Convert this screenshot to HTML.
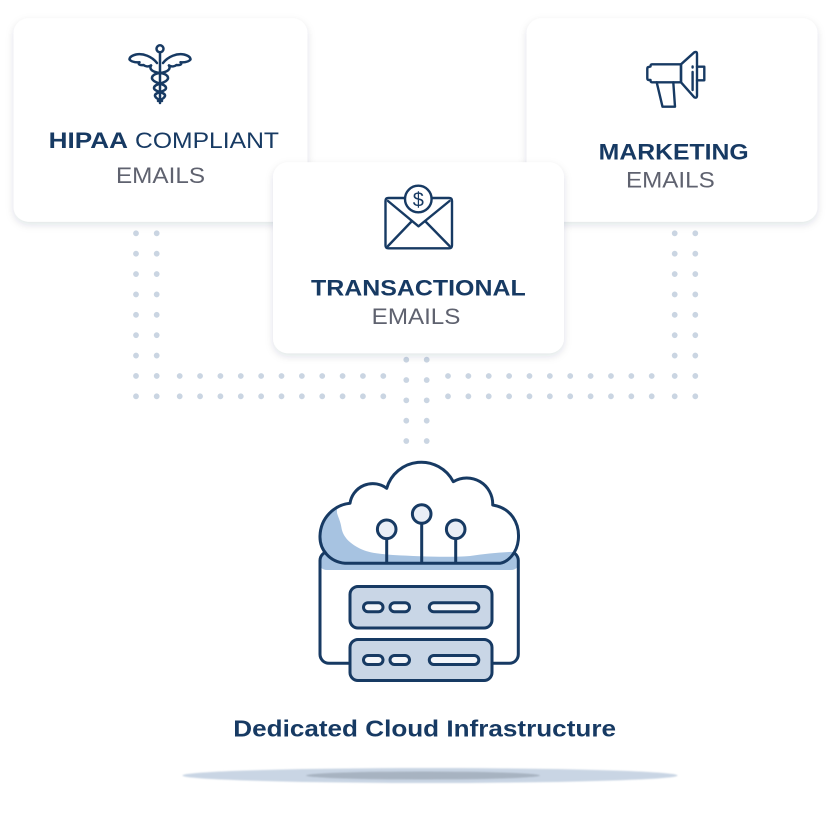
<!DOCTYPE html>
<html>
<head>
<meta charset="utf-8">
<style>
  html,body{margin:0;padding:0;background:#ffffff;}
  body{width:833px;height:833px;overflow:hidden;}
  svg{display:block;}
  .nv{fill:#173a63;font-family:"Liberation Sans",sans-serif;font-weight:bold;}
  .gr{fill:#5f626f;font-family:"Liberation Sans",sans-serif;font-weight:normal;}
  .ln{fill:#173a63;font-family:"Liberation Sans",sans-serif;font-weight:normal;}
</style>
</head>
<body>
<svg width="833" height="833" viewBox="0 0 833 833" xmlns="http://www.w3.org/2000/svg">
  <defs>
    <filter id="sh" x="-10%" y="-10%" width="120%" height="130%">
      <feDropShadow dx="0" dy="3" stdDeviation="4" flood-color="#1c2a44" flood-opacity="0.13"/>
    </filter>
    <filter id="blur1" x="-5%" y="-100%" width="110%" height="300%">
      <feGaussianBlur stdDeviation="0.7"/>
    </filter>
    <clipPath id="cloudClip">
      <path d="M 345,563.3 C 330,562 319.5,550 320,536 C 320.5,518 334,505 350,503.3 A 23 23 0 0 1 386.7,488.3 A 36 36 0 0 1 453.3,481.7 A 26 26 0 0 1 492.7,505 C 511,508 520,523 518.3,540 C 517,553 508,562 500,563.3 Z"/>
    </clipPath>
    <clipPath id="chClip">
      <rect x="320" y="551.5" width="198.3" height="111.8" rx="9"/>
    </clipPath>
  </defs>

  <!-- dotted connectors (round-capped zero-length dashes) -->
  <g stroke="#cad5e2" stroke-width="5.8" stroke-linecap="round" fill="none">
    <path d="M136,233.3 V396.8 M156.7,233.3 V396.8 M674.7,233.3 V396.8 M695.3,233.3 V396.8" stroke-dasharray="0 20.375"/>
    <path d="M179.7,376 H383.8 M179.7,396.3 H383.8" stroke-dasharray="0 20.36"/>
    <path d="M448,376 H652.2 M448,396.3 H652.2" stroke-dasharray="0 20.37"/>
    <path d="M406.3,359.7 V441.5 M426.7,359.7 V441.5" stroke-dasharray="0 20.33"/>
  </g>

  <!-- cards -->
  <rect x="13.5" y="18.3" width="294" height="203.4" rx="15" fill="#ffffff" filter="url(#sh)"/>
  <rect x="526.5" y="18.3" width="291" height="203.4" rx="15" fill="#ffffff" filter="url(#sh)"/>
  <rect x="273" y="162.3" width="291" height="191" rx="15" fill="#ffffff" filter="url(#sh)"/>

  <!-- caduceus -->
  <g fill="none" stroke="#173a63" stroke-width="2.5" stroke-linecap="round" stroke-linejoin="round">
    <circle cx="160" cy="48.8" r="3.5"/>
    <line x1="160" y1="52.3" x2="160" y2="103"/>
    <path d="M 157,63 C 152,56.5 143,53 136,54.5 C 132,55.5 129.5,57 129.5,59.5 C 131,61.5 135,62.5 139.5,62.3 C 137.5,64 139.5,65.5 143.5,65 C 145.5,66.5 148.5,67 151,65.5"/>
    <path d="M 163,63 C 168,56.5 177,53 184,54.5 C 188,55.5 190.5,57 190.5,59.5 C 189,61.5 185,62.5 180.5,62.3 C 182.5,64 180.5,65.5 176.5,65 C 174.5,66.5 171.5,67 169,65.5"/>
    <path d="M 151,65.5 C 149,69 152,72 160,73 C 168,74 170,78 166,81 C 162,84 154,84 154,88 C 154,92 166,92 165,96 C 164,99 160,100 158,101"/>
    <path d="M 169,65.5 C 171,69 168,72 160,73 C 152,74 150,78 154,81 C 158,84 166,84 166,88 C 166,92 154,92 155,96 C 156,99 160,100 162,101"/>
  </g>

  <!-- megaphone -->
  <g fill="none" stroke="#173a63" stroke-width="2.4" stroke-linejoin="round" stroke-linecap="round">
    <path d="M 681,64.3 L 652,64.3 Q 650.5,64.3 650.5,66.5 L 648.8,67 Q 647.3,67 647.3,68.8 L 647.3,78.3 Q 647.3,80 648.8,80 L 650.5,80 Q 650.5,82.3 652,82.3 L 681,82.3 Z"/>
    <path d="M 681,64.3 L 694.3,52.3 Q 697,51 697,54 L 697,95.5 Q 697,98.5 694.3,97.3 L 681,82.3 Z"/>
    <path d="M 697,66.7 L 704.3,66.7 L 704.3,80.3 L 697,80.3"/>
    <path d="M 692.6,72 V 90 M 692.6,66.5 V 67.5"/>
    <path d="M 656.7,82.3 L 662.5,106.7 L 675,106.7 L 673.3,82.3"/>
  </g>

  <!-- envelope -->
  <g fill="none" stroke="#173a63" stroke-width="2.4" stroke-linejoin="round" stroke-linecap="round">
    <path d="M 404.5,198 L 388.5,198 Q 385.5,198 385.5,201 L 385.5,245.3 Q 385.5,248.3 388.5,248.3 L 449,248.3 Q 452,248.3 452,245.3 L 452,201 Q 452,198 449,198 L 432.2,198"/>
    <path d="M 388,201 L 418.5,226.3 L 449.5,201 M 388,246 L 411.5,221.5 M 449.5,246 L 425.5,221.5"/>
    <circle cx="418.3" cy="199" r="13.3"/>
  </g>
  <text x="418.3" y="206.5" text-anchor="middle" font-family="Liberation Sans, sans-serif" font-size="20" fill="#173a63">$</text>

  <!-- card labels -->
  <text class="nv" x="48.7" y="148" font-size="22.6" textLength="79.3" lengthAdjust="spacingAndGlyphs">HIPAA</text>
  <text class="ln" x="135" y="148" font-size="22.6" textLength="144" lengthAdjust="spacingAndGlyphs">COMPLIANT</text>
  <text class="gr" x="116" y="183" font-size="22.6" textLength="89" lengthAdjust="spacingAndGlyphs">EMAILS</text>
  <text class="nv" x="598.7" y="159.3" font-size="22.6" textLength="150" lengthAdjust="spacingAndGlyphs">MARKETING</text>
  <text class="gr" x="626" y="187.7" font-size="22.6" textLength="88.7" lengthAdjust="spacingAndGlyphs">EMAILS</text>
  <text class="nv" x="311" y="295.3" font-size="22" textLength="214.7" lengthAdjust="spacingAndGlyphs">TRANSACTIONAL</text>
  <text class="gr" x="371.7" y="324" font-size="22.6" textLength="88.7" lengthAdjust="spacingAndGlyphs">EMAILS</text>

  <!-- chassis -->
  <rect x="320" y="551.5" width="198.3" height="111.8" rx="9" fill="#ffffff"/>
  <g clip-path="url(#chClip)">
    <rect x="318" y="549" width="202" height="21" rx="9" fill="#a7c3e1"/>
  </g>
  <rect x="320" y="551.5" width="198.3" height="111.8" rx="9" fill="none" stroke="#173a63" stroke-width="3"/>

  <!-- cloud -->
  <g clip-path="url(#cloudClip)">
    <rect x="310" y="455" width="220" height="115" fill="#a7c3e1"/>
    <path fill="#ffffff" d="M 342,500 L 360,470 L 530,430 L 530,552 C 510,551 490,553 470,556 C 450,557.5 420,556.5 393,555 C 380,554 370,553 362,549.5 C 350,544 343,537 341.5,528 C 340.5,521 338,517 337,513 C 336.5,508 338.5,503 342,500 Z"/>
  </g>
  <path fill="none" stroke="#173a63" stroke-width="3" stroke-linejoin="round" d="M 345,563.3 C 330,562 319.5,550 320,536 C 320.5,518 334,505 350,503.3 A 23 23 0 0 1 386.7,488.3 A 36 36 0 0 1 453.3,481.7 A 26 26 0 0 1 492.7,505 C 511,508 520,523 518.3,540 C 517,553 508,562 500,563.3 Z"/>

  <!-- antennas -->
  <g stroke="#173a63" stroke-width="3" fill="#e9eef6">
    <path d="M 386.7,539 V 563 M 421.7,524 V 563 M 455.7,539 V 563"/>
    <circle cx="386.7" cy="529.3" r="9.3"/>
    <circle cx="421.7" cy="514" r="9.3"/>
    <circle cx="455.7" cy="529.3" r="9.3"/>
  </g>

  <!-- server units -->
  <g stroke="#173a63" stroke-width="3">
    <rect x="350" y="586.5" width="142" height="41.5" rx="8" fill="#c9d6e6"/>
    <rect x="350" y="639.5" width="142" height="41" rx="8" fill="#c9d6e6"/>
    <path fill="#f4f6fa" d="M368,602.8 H378.5 A4.5,4.5 0 0 1 378.5,611.8 H368 A4.5,4.5 0 0 1 368,602.8 Z M394.5,602.8 H405 A4.5,4.5 0 0 1 405,611.8 H394.5 A4.5,4.5 0 0 1 394.5,602.8 Z M433.8,602.8 H474.3 A4.5,4.5 0 0 1 474.3,611.8 H433.8 A4.5,4.5 0 0 1 433.8,602.8 Z"/>
    <path fill="#f4f6fa" d="M368,655.5 H378.5 A4.5,4.5 0 0 1 378.5,664.5 H368 A4.5,4.5 0 0 1 368,655.5 Z M394.5,655.5 H405 A4.5,4.5 0 0 1 405,664.5 H394.5 A4.5,4.5 0 0 1 394.5,655.5 Z M433.8,655.5 H474.3 A4.5,4.5 0 0 1 474.3,664.5 H433.8 A4.5,4.5 0 0 1 433.8,655.5 Z"/>
  </g>

  <!-- label -->
  <text class="nv" x="233.3" y="736.7" font-size="23.5" textLength="382.7" lengthAdjust="spacingAndGlyphs">Dedicated Cloud Infrastructure</text>

  <!-- floor shadow -->
  <ellipse cx="430" cy="775.5" rx="247.5" ry="7.5" fill="#c9d5e4" filter="url(#blur1)"/>
  <ellipse cx="423" cy="775.5" rx="117" ry="4" fill="#a7b3c1" filter="url(#blur1)"/>
</svg>
</body>
</html>
